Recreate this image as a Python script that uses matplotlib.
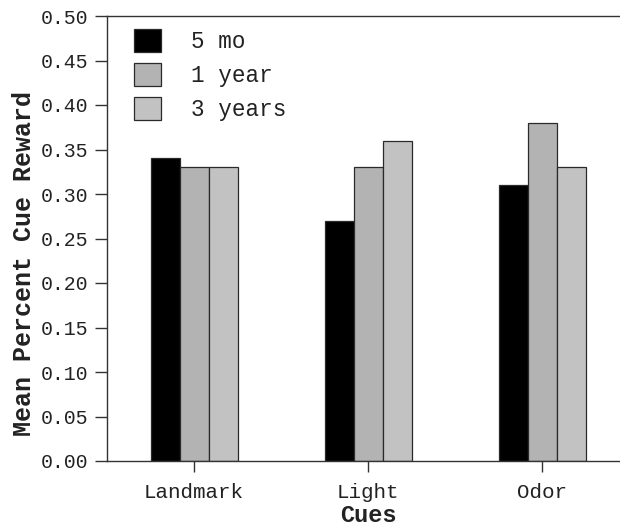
import matplotlib
matplotlib.use("Agg")
import matplotlib.pyplot as plt
import numpy as np

categories = ["Landmark", "Light", "Odor"]
series_names = ["5 mo", "1 year", "3 years"]
vals_5mo = [0.34, 0.27, 0.31]
vals_1yr = [0.33, 0.33, 0.38]
vals_3yr = [0.33, 0.36, 0.33]
yticks = [0.00, 0.05, 0.10, 0.15, 0.20, 0.25, 0.30, 0.35, 0.40, 0.45, 0.50]

plt.rcParams['font.family'] = ['Liberation Mono', 'DejaVu Sans Mono']

fig = plt.figure(figsize=(6.2, 5.27), dpi=100)
ax = fig.add_axes([107/620, 1-461/527, 513/620, 445/527])

x = np.arange(len(categories))
w = 1/6
colors = ['#000000', '#b3b3b3', '#c2c2c2']
series = [vals_5mo, vals_1yr, vals_3yr]
for i, (vals, name, c) in enumerate(zip(series, series_names, colors)):
    ax.bar(x + (i-1)*w, vals, width=w, color=c, edgecolor='#2a2a2a',
           linewidth=0.9, label=name, zorder=2)

ax.set_xlim(-0.5, 2.448)
ax.set_ylim(0, 0.5)
ax.set_yticks(yticks)
ax.set_yticklabels([f"{v:.2f}" for v in yticks])
ax.set_xticks(x)
ax.set_xticklabels(categories)

for s in ['left', 'top', 'bottom']:
    ax.spines[s].set_linewidth(1.0)
    ax.spines[s].set_color('#333333')
ax.spines['right'].set_visible(False)

ax.tick_params(axis='y', direction='out', length=8.5, width=1.0, pad=5,
               labelsize=14.3, colors='#333333', labelcolor='#222222')
ax.tick_params(axis='x', direction='out', length=8, width=1.0, pad=8,
               labelsize=15, colors='#333333', labelcolor='#222222')

ax.set_ylabel("Mean Percent Cue Reward", fontsize=18, fontweight='bold', color='#222222')
ax.yaxis.label.set_va('center')
ax.yaxis.set_label_coords((24-107)/513, (461-264)/445)
ax.set_xlabel("Cues", fontsize=17, fontweight='bold', color='#222222')
ax.xaxis.label.set_va('center')
ax.xaxis.set_label_coords((368-107)/513, (461-516)/445)

leg = ax.legend(loc='upper left', bbox_to_anchor=((134-107)/513, 1-13/445),
                frameon=False, fontsize=16.3, handlelength=1.2, handleheight=1.2,
                handletextpad=1.3, labelspacing=0.42, borderpad=0, borderaxespad=0)
for t in leg.get_texts():
    t.set_color('#222222')

fig.savefig("out.png", dpi=100)
